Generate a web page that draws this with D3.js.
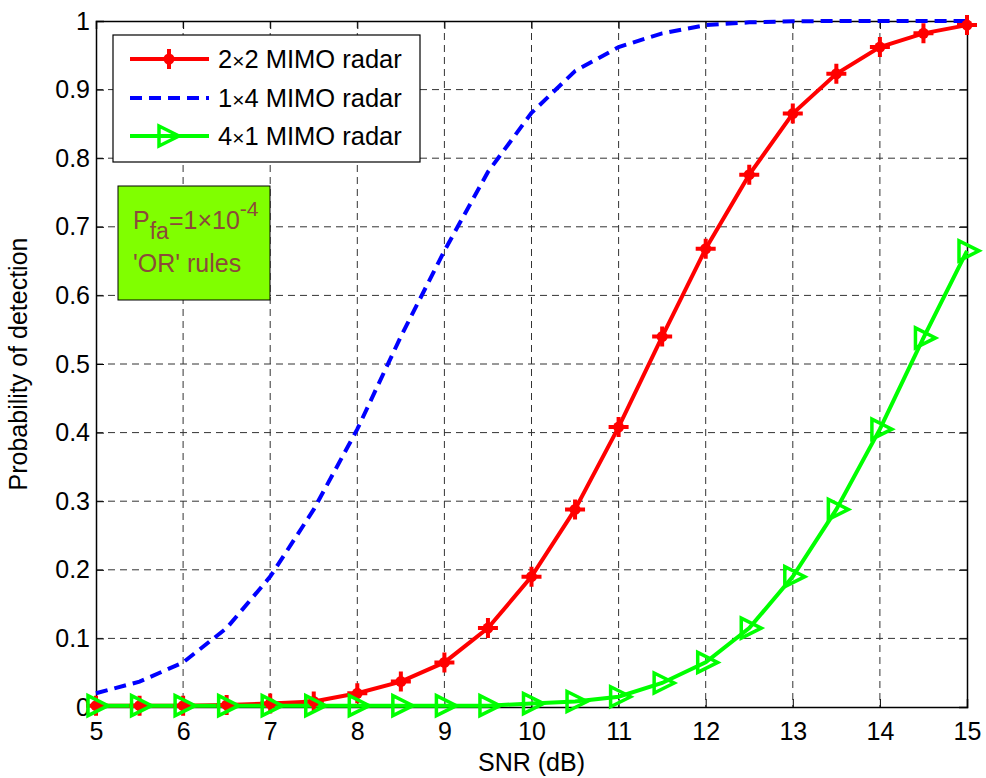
<!DOCTYPE html>
<html>
<head>
  <meta charset="utf-8">
  <title>Probability of detection vs SNR</title>
  <script src="https://d3js.org/d3.v7.min.js"></script>
  <style>
    body { margin: 0; background: #fff; }
    text { font-family: "Liberation Sans", Arial, sans-serif; fill: #000; }
    .grid line { stroke: #333; stroke-dasharray: 7,5; stroke-width: 1; }
  </style>
</head>
<body>
  <svg width="986" height="778"></svg>
  <script>
    // data
    const snr = [5, 5.5, 6, 6.5, 7, 7.5, 8, 8.5, 9, 9.5, 10, 10.5, 11, 11.5, 12, 12.5, 13, 13.5, 14, 14.5, 15];
    const pd2x2 = [0.002, 0.002, 0.002, 0.003, 0.005, 0.008, 0.02, 0.037, 0.065, 0.115, 0.19, 0.288, 0.408, 0.54, 0.668, 0.776, 0.865, 0.923, 0.962, 0.982, 0.994];
    const pd1x4 = [0.02, 0.037, 0.065, 0.115, 0.19, 0.288, 0.405, 0.54, 0.665, 0.78, 0.866, 0.927, 0.962, 0.982, 0.994, 0.998, 0.9995, 1, 1, 1, 1];
    const pd4x1 = [0.002, 0.002, 0.002, 0.002, 0.002, 0.002, 0.002, 0.002, 0.002, 0.002, 0.005, 0.008, 0.015, 0.035, 0.065, 0.115, 0.19, 0.288, 0.405, 0.538, 0.665];
    const xTicks = [5, 6, 7, 8, 9, 10, 11, 12, 13, 14, 15];
    const yTicks = [0, 0.1, 0.2, 0.3, 0.4, 0.5, 0.6, 0.7, 0.8, 0.9, 1];
    const seriesNames = ["2\u00d72 MIMO radar", "1\u00d74 MIMO radar", "4\u00d71 MIMO radar"];

    const svg = d3.select("svg");
    const pLeft = 96, pRight = 967, pTop = 21, pBottom = 707;

    const x = d3.scaleLinear().domain([5, 15]).range([pLeft, pRight]);
    const y = d3.scaleLinear().domain([0, 1]).range([pBottom, pTop]);

    // grid
    const grid = svg.append("g").attr("class", "grid");
    grid.selectAll(".vx").data(xTicks.slice(1, -1)).enter().append("line")
      .attr("x1", d => x(d)).attr("x2", d => x(d)).attr("y1", pTop).attr("y2", pBottom);
    grid.selectAll(".hy").data(yTicks.slice(1, -1)).enter().append("line")
      .attr("y1", d => y(d)).attr("y2", d => y(d)).attr("x1", pLeft).attr("x2", pRight);

    // axes (inward ticks, MATLAB style)
    const tickFmt = d => d === 0 || d === 1 ? d3.format("d")(d) : d3.format(".1f")(d);
    const gx = svg.append("g").attr("transform", `translate(0,${pBottom})`)
      .call(d3.axisBottom(x).tickValues(xTicks).tickSize(-8).tickPadding(15).tickFormat(d3.format("d")));
    const gy = svg.append("g").attr("transform", `translate(${pLeft},0)`)
      .call(d3.axisLeft(y).tickValues(yTicks).tickSize(-8).tickPadding(6).tickFormat(tickFmt));
    const gx2 = svg.append("g").attr("transform", `translate(0,${pTop})`)
      .call(d3.axisTop(x).tickValues(xTicks).tickSize(-8).tickFormat(""));
    const gy2 = svg.append("g").attr("transform", `translate(${pRight},0)`)
      .call(d3.axisRight(y).tickValues(yTicks).tickSize(-8).tickFormat(""));
    [gx, gy, gx2, gy2].forEach(g => {
      g.selectAll("path.domain").attr("stroke", "#000").attr("stroke-width", 1.5);
      g.selectAll(".tick line").attr("stroke", "#000");
      g.selectAll(".tick text").attr("font-size", 25).attr("font-family", "Liberation Sans, Arial, sans-serif");
    });
    gx.selectAll(".tick text").attr("dy", "0.71em");

    // lines
    const line = d3.line().x((d, i) => x(snr[i])).y(d => y(d));
    const plot = svg.append("g");

    plot.append("path").datum(pd1x4).attr("d", line)
      .attr("fill", "none").attr("stroke", "#0000ff").attr("stroke-width", 4)
      .attr("stroke-dasharray", "12,7");

    plot.append("path").datum(pd2x2).attr("d", line)
      .attr("fill", "none").attr("stroke", "#ff0000").attr("stroke-width", 4);

    plot.append("path").datum(pd4x1).attr("d", line)
      .attr("fill", "none").attr("stroke", "#00ff00").attr("stroke-width", 4);

    // markers
    const plusPath = "M-10,0H10M0,-10V10";
    const triPath = "M-8,-10L-8,10L12,0Z";

    function drawPlus(g, cx, cy) {
      g.append("path").attr("d", plusPath).attr("transform", `translate(${cx},${cy})`)
        .attr("stroke", "#ff0000").attr("stroke-width", 4).attr("fill", "none");
      g.append("circle").attr("cx", cx).attr("cy", cy).attr("r", 5.5).attr("fill", "#ff0000");
    }
    function drawTri(g, cx, cy) {
      g.append("path").attr("d", triPath).attr("transform", `translate(${cx},${cy})`)
        .attr("stroke", "#00ff00").attr("stroke-width", 3.5).attr("fill", "none")
        .attr("stroke-linejoin", "miter");
    }
    pd2x2.forEach((d, i) => drawPlus(plot, x(snr[i]), y(d)));
    pd4x1.forEach((d, i) => drawTri(plot, x(snr[i]), y(d)));

    // legend
    const leg = svg.append("g");
    leg.append("rect").attr("x", 113).attr("y", 35).attr("width", 307).attr("height", 127)
      .attr("fill", "#fff").attr("stroke", "#000").attr("stroke-width", 1.2);
    const legY = [59, 98, 136];
    const legStyles = [
      { c: "#ff0000", dash: null, m: "plus" },
      { c: "#0000ff", dash: "12,7", m: null },
      { c: "#00ff00", dash: null, m: "tri" }
    ];
    legStyles.forEach((s, i) => {
      leg.append("line").attr("x1", 130).attr("x2", 209).attr("y1", legY[i]).attr("y2", legY[i])
        .attr("stroke", s.c).attr("stroke-width", 4).attr("stroke-dasharray", s.dash);
      if (s.m === "plus") drawPlus(leg, 169, legY[i]);
      if (s.m === "tri") drawTri(leg, 167, legY[i]);
      const parts = seriesNames[i].split("\u00d7");
      const t = leg.append("text").attr("x", 218).attr("y", legY[i] + 9).attr("font-size", 25.5);
      t.append("tspan").text(parts[0]);
      t.append("tspan").attr("font-size", 21).text("\u00d7");
      t.append("tspan").text(parts[1]);
    });

    // annotation box
    const ann = svg.append("g");
    ann.append("rect").attr("x", 118).attr("y", 186).attr("width", 152).attr("height", 114)
      .attr("fill", "#80ff00").attr("stroke", "#000").attr("stroke-width", 1);
    const annColor = "#8b4a3a";
    const t1 = ann.append("text").attr("x", 133).attr("y", 229).attr("font-size", 25)
      .style("fill", annColor);
    t1.append("tspan").text("P");
    t1.append("tspan").attr("dy", 10).attr("font-size", 23).text("fa");
    t1.append("tspan").attr("dy", -10).text("=1\u00d710");
    t1.append("tspan").attr("dy", -13).attr("font-size", 21).text("-4");
    ann.append("text").attr("x", 133).attr("y", 272).attr("font-size", 25)
      .style("fill", annColor).text("'OR' rules");

    // axis labels
    svg.append("text").attr("x", (pLeft + pRight) / 2).attr("y", 771)
      .attr("text-anchor", "middle").attr("font-size", 25).text("SNR (dB)");
    svg.append("text").attr("transform", `translate(27,${(pTop + pBottom) / 2}) rotate(-90)`)
      .attr("text-anchor", "middle").attr("font-size", 25).text("Probability of detection");
  </script>
</body>
</html>
